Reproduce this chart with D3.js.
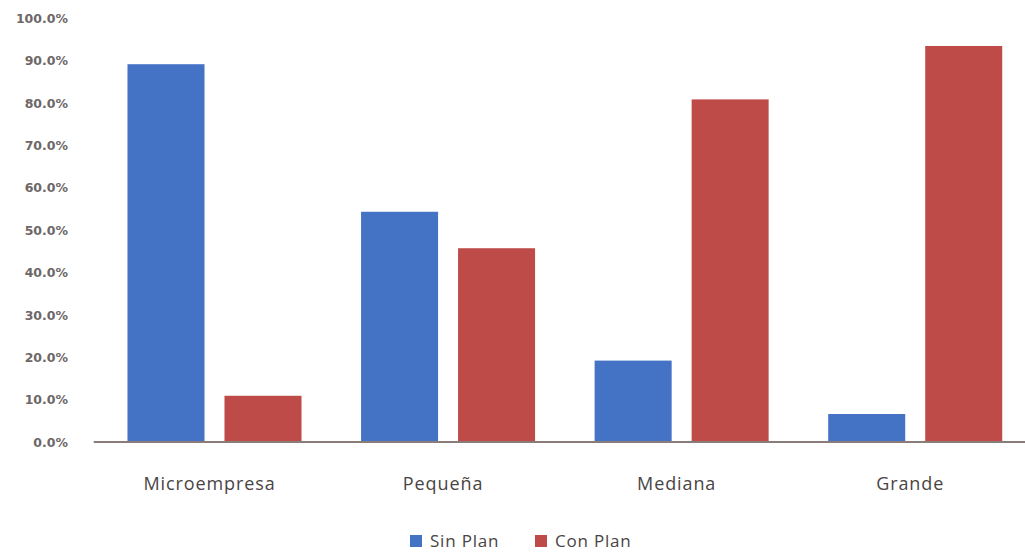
<!DOCTYPE html>
<html>
<head>
<meta charset="utf-8">
<script src="https://cdn.jsdelivr.net/npm/d3@7"></script>
<style>
  html, body { margin: 0; padding: 0; background: #ffffff; }
  svg { display: block; }
</style>
</head>
<body>
<svg id="chart" width="1025" height="553"></svg>
<script>
// Company size categories and share of firms with / without a plan
const categories = ["Microempresa", "Pequeña", "Mediana", "Grande"];
const seriesNames = ["Sin Plan", "Con Plan"];
const sinPlan = [89.1, 54.3, 19.2, 6.6];
const conPlan = [10.9, 45.7, 80.8, 93.4];
const yTicks = [0, 10, 20, 30, 40, 50, 60, 70, 80, 90, 100];
const colors = ["#4472c4", "#be4b48"];

const W = 1025, H = 553;
const svg = d3.select("#chart");

const plot = { left: 97.7, right: 1032, top: 18, bottom: 442 };

const x = d3.scaleBand()
  .domain(categories)
  .range([plot.left, plot.right])
  .paddingInner(0)
  .paddingOuter(0);

const xSeries = d3.scaleBand()
  .domain(seriesNames)
  .range([0, x.bandwidth()])
  .paddingInner(0.206)
  .paddingOuter(0.307);

const y = d3.scaleLinear()
  .domain([0, 100])
  .range([plot.bottom, plot.top]);

const rows = categories.map((c, i) => ({
  category: c,
  values: [
    { series: seriesNames[0], value: sinPlan[i] },
    { series: seriesNames[1], value: conPlan[i] }
  ]
}));

// Bars
const groups = svg.append("g")
  .selectAll("g")
  .data(rows)
  .join("g")
  .attr("transform", d => `translate(${x(d.category)},0)`);

groups.selectAll("rect")
  .data(d => d.values)
  .join("rect")
  .attr("x", d => xSeries(d.series))
  .attr("width", xSeries.bandwidth())
  .attr("y", d => y(d.value))
  .attr("height", d => y(0) - y(d.value))
  .attr("fill", (d, i) => colors[i]);

// Y axis labels (no axis line)
const yAxis = d3.axisLeft(y)
  .tickValues(yTicks)
  .tickSize(0)
  .tickPadding(0)
  .tickFormat(d => d3.format(".1f")(d) + "%");

const yg = svg.append("g")
  .attr("transform", "translate(68,0)")
  .call(yAxis);
yg.select(".domain").remove();
yg.selectAll("text")
  .attr("font-family", "'DejaVu Sans', Verdana, sans-serif")
  .attr("font-size", 12.5)
  .attr("font-weight", "bold")
  .attr("fill", "#6e6767")
  .attr("dy", "0.35em");

// Category axis
const xAxis = d3.axisBottom(x).tickSize(0).tickPadding(0);
const xg = svg.append("g")
  .attr("transform", `translate(0,${plot.bottom})`)
  .call(xAxis);
xg.select(".domain").remove();
xg.selectAll("text")
  .attr("font-family", "'Open Sans', 'Liberation Sans', sans-serif")
  .attr("font-size", 18)
  .attr("letter-spacing", 0.9)
  .attr("fill", "#4a4444")
  .attr("dy", "0")
  .attr("y", 48)
  .attr("x", -5);

// Baseline
svg.append("line")
  .attr("x1", plot.left - 4)
  .attr("x2", W)
  .attr("y1", y(0))
  .attr("y2", y(0))
  .attr("stroke", "#8a7c78")
  .attr("stroke-width", 2);

// Legend
const legendItems = [
  { name: seriesNames[0], color: colors[0], x: 410 },
  { name: seriesNames[1], color: colors[1], x: 535 }
];
const lg = svg.append("g")
  .selectAll("g")
  .data(legendItems)
  .join("g")
  .attr("transform", d => `translate(${d.x},541)`);
lg.append("rect")
  .attr("x", 0).attr("y", -6)
  .attr("width", 12).attr("height", 12)
  .attr("fill", d => d.color);
lg.append("text")
  .attr("x", 20).attr("y", 0)
  .attr("dy", "0.35em")
  .attr("font-family", "'Open Sans', 'Liberation Sans', sans-serif")
  .attr("font-size", 17)
  .attr("letter-spacing", 0.8)
  .attr("fill", "#4a4444")
  .text(d => d.name);
</script>
</body>
</html>
